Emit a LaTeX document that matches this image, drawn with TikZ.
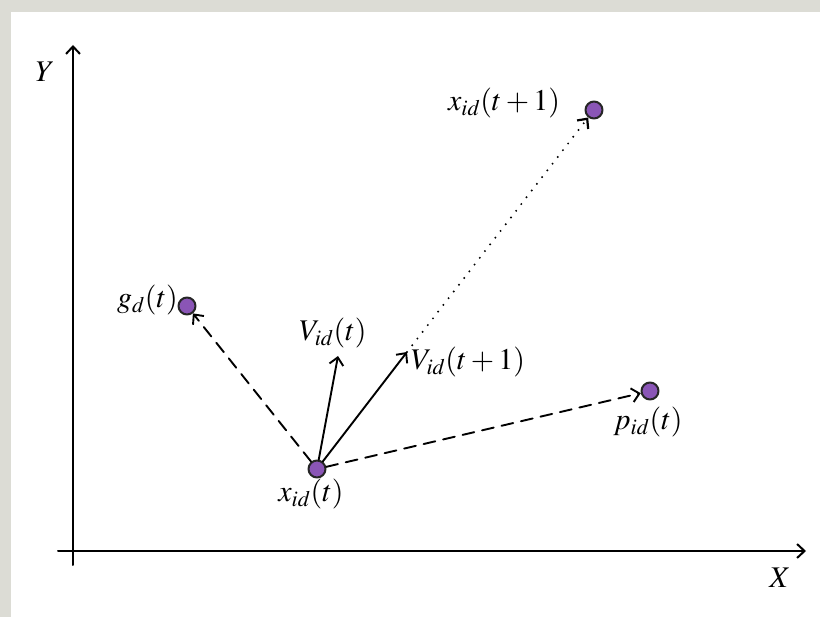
\documentclass[tikz,border=0pt]{standalone}
\usepackage{mathptmx}
\usepackage{tikz}
\usetikzlibrary{arrows.meta}

\definecolor{dotviolet}{HTML}{8A55B6}
\definecolor{slidegrey}{HTML}{DCDCD5}

\begin{document}
\begin{tikzpicture}[x=1pt,y=-1pt,>={Straight Barb[length=7.5pt,width=14pt]},line cap=round,line join=round,
  dot/.style={circle,draw=black!85,line width=2pt,fill=dotviolet,inner sep=0pt,minimum size=17pt},
  lbl/.style={font=\fontsize{30}{34}\selectfont,inner sep=1pt}]
  \useasboundingbox (0,0) rectangle (820,617);
  \fill[slidegrey] (0,0) rectangle (820,617);
  \fill[white] (11,12) rectangle (820,617);

  % axes
  \draw[->,line width=2pt] (73,565) -- (73,45);
  \draw[->,line width=2pt] (58,551) -- (806,551);
  \node[lbl] (ylab) at (45,72) {$Y$};
  \node[lbl] (xlab) at (780,578) {$X$};

  % particles
  \node[dot] (xt) at (317,469) {};
  \node[dot] (gt) at (187,306) {};
  \node[dot] (xt1) at (594,110) {};
  \node[dot] (pt) at (650,391) {};
  \coordinate (vt) at (338,356);
  \coordinate (vt1) at (407,352);

  \node[lbl] (xtlab) at (311,494) {$x_{id}(t)$};
  \node[lbl,anchor=east] (gtlab) at (179,300) {$g_{d}(t)$};
  \node[lbl] (xt1lab) at (504,103) {$x_{id}(t+1)$};
  \node[lbl] (ptlab) at (648,422) {$p_{id}(t)$};
  \node[lbl] (vtlab) at (333,333) {$V_{id}(t)$};
  \node[lbl,anchor=west] (vt1lab) at (410,362) {$V_{id}(t+1)$};

  % moves
  \draw[->,line width=1.9pt] (xt) -- (vt);
  \draw[->,line width=1.9pt] (xt) -- (vt1);
  \draw[->,line width=1.9pt,dash pattern=on 12pt off 8pt] (xt) -- (gt);
  \draw[->,line width=1.9pt,dash pattern=on 12pt off 8pt] (xt) -- (pt);
  \draw[->,line width=2.2pt,dash pattern=on 0pt off 8.5pt] (vt1) -- (xt1);
\end{tikzpicture}
\end{document}
